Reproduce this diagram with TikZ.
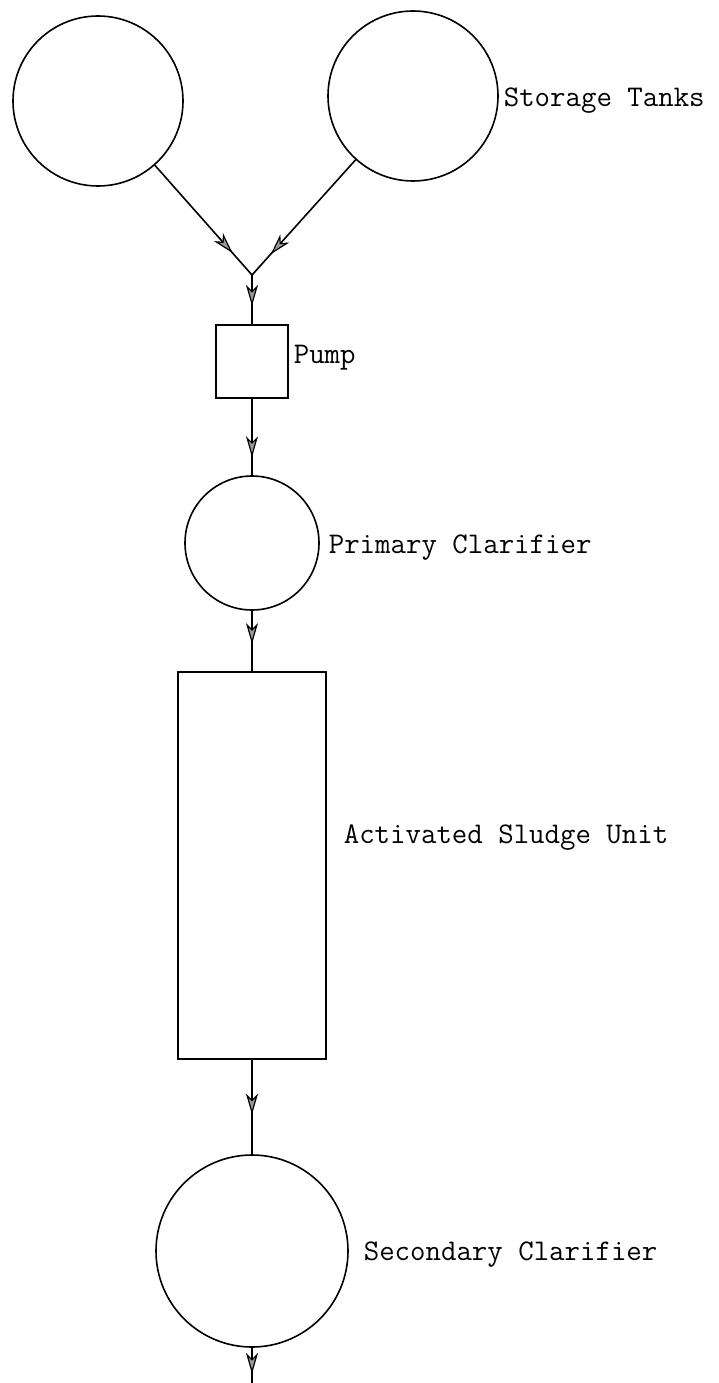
\documentclass[tikz,border=0pt]{standalone}
\usetikzlibrary{arrows.meta,decorations.markings}
\begin{document}
\begin{tikzpicture}[x=1pt,y=-1pt,
  line width=1.6pt,
  flowtip/.tip={Stealth[length=21pt,width=12pt,inset=6pt,fill=gray!80,line width=1.2pt]},
  midarrow/.style={postaction={decorate},decoration={markings,mark=at position #1 with {\arrow{flowtip}}}},
  tank/.style={draw,circle,inner sep=0pt,outer sep=0pt,minimum size=#1},
  boxunit/.style={draw,rectangle,inner sep=0pt,outer sep=0pt},
  lbl/.style={anchor=west,inner sep=0pt,font=\ttfamily\fontsize{30}{30}\selectfont}
]
\useasboundingbox (0,0) rectangle (718,1383);
\node[tank=170pt] (tankL) at (98,101) {};
\node[tank=170pt] (tankR) at (413,96) {};
\node[lbl] (lblTanks) at (503,101) {Storage Tanks};
\coordinate (J) at (252,275);
\node[boxunit,minimum width=72pt,minimum height=73pt] (pump) at (252,361.5) {};
\node[lbl] (lblPump) at (293,358) {Pump};
\node[tank=134pt] (prim) at (252,543) {};
\node[lbl] (lblPrim) at (328,548) {Primary Clarifier};
\node[boxunit,minimum width=148pt,minimum height=387pt] (asu) at (252,865.5) {};
\node[lbl] (lblAsu) at (343,838) {Activated Sludge Unit};
\node[tank=192pt] (sec) at (252,1251) {};
\node[lbl] (lblSec) at (363,1255) {Secondary Clarifier};
\coordinate (out) at (252,1383);

\draw[midarrow=0.8] (tankL) -- (J);
\draw[midarrow=0.82] (tankR) -- (J);
\draw[midarrow=0.62] (J) -- (pump.north);
\draw[midarrow=0.76] (pump.south) -- (prim.north);
\draw[midarrow=0.55] (prim.south) -- (asu.north);
\draw[midarrow=0.58] (asu.south) -- (sec.north);
\draw[midarrow=0.75] (sec.south) -- (out);
\end{tikzpicture}
\end{document}
